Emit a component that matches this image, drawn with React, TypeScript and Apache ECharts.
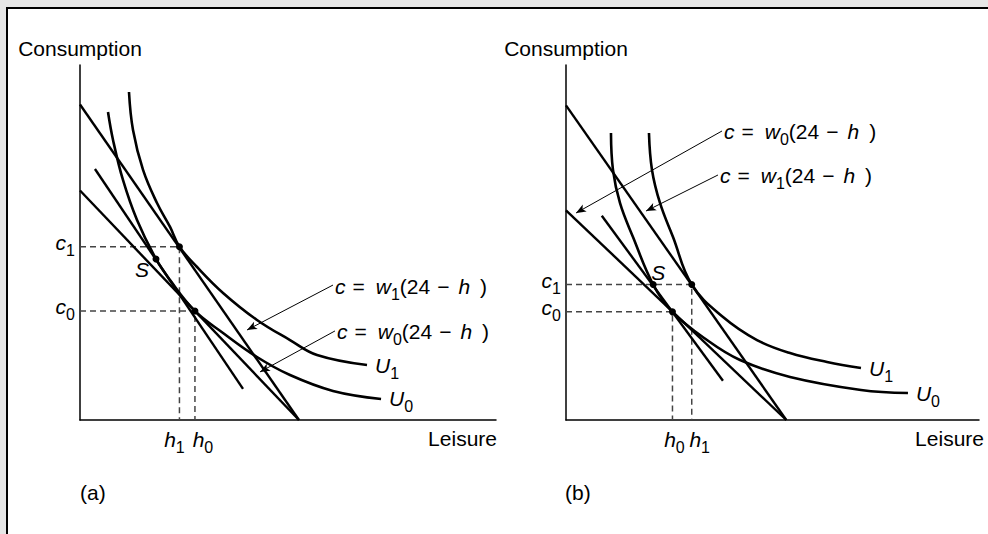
import React, { useEffect, useRef } from "react";
import * as echarts from "echarts";

const FONT = '"Liberation Sans", Arial, Helvetica, sans-serif';

const HOURS = 24;

// ---------- panel (a) ----------
const wagesA = [8, 11]; // w0, w1
const hoursA = [12.6, 10.9]; // h0, h1
const consA = [91.2, 145]; // c0, c1
const pointSA = [8.33, 134.7];
const compLineA = [
  [1.64, 210],
  [17.87, 26],
];
const u0A = [
  [3.07, 257.7], [3.62, 234.3], [4.71, 200.8], [6.25, 167.3], [8.33, 134.7], [9.87, 117.1],
  [12.6, 91.2], [15.68, 72.8], [19.4, 52.7], [23.02, 37.6], [27.73, 24.3], [33.0, 17.6],
];
const u1A = [
  [5.37, 274.4], [5.81, 242.6], [6.91, 209.2], [8.44, 181.5], [9.87, 161.5], [10.9, 145.0],
  [12.83, 128.0], [15.68, 106.3], [19.4, 83.7], [23.02, 66.9], [25.98, 54.4], [31.46, 46.0],
];
const eqIndexA = [1, 0]; // label order (top to bottom)
const arrowTailA = [
  [27.73, 112.9],
  [27.95, 74.5],
];
const arrowHeadA = [
  [18.31, 75.3],
  [19.73, 40.2],
];

// ---------- panel (b) ----------
const wagesB = [8, 12];
const hoursB = [11.6, 13.7];
const consB = [99, 124];
const pointSB = [9.5, 124];
const compLineB = [
  [3.9, 187],
  [17.1, 36],
];
const u0B = [
  [4.9, 262.7], [5.12, 228.9], [5.88, 198.7], [7.3, 167.5], [9.5, 124], [11.6, 99],
  [15.36, 73.2], [18.96, 54.9], [24.41, 39.4], [32.14, 27.5], [37.26, 24.7],
];
const u1B = [
  [9.04, 262.7], [9.37, 228.9], [10.24, 198.7], [11.66, 167.5], [13.7, 124], [17.11, 94.3],
  [20.81, 73.2], [24.41, 61.3], [28.44, 53.1], [32.14, 47.6],
];
const eqIndexB = [0, 1];
const arrowTailB = [
  [17.0, 264.6],
  [16.56, 224.3],
];
const arrowHeadB = [
  [1.09, 189.5],
  [8.72, 191.3],
];

const axisMax = [
  { x: 45.6, y: 297 },
  { x: 45, y: 325 },
];

const base = { fontFamily: FONT, fontSize: 21, color: "#000" };
const ital = { ...base, fontStyle: "italic" };
const rich = {
  i: ital,
  n: base,
  s: { fontFamily: FONT, fontSize: 16, color: "#000", padding: [16, 0, 0, 0] },
  e: { ...base, padding: [0, 0, 0, 7] },
  wq: { ...ital, padding: [0, 0, 0, 11] },
  m: { ...base, padding: [0, 0, 0, 7] },
  hq: { ...ital, padding: [0, 0, 0, 9] },
  rp: { ...base, padding: [0, 0, 0, 10] },
};

const BLACK = "#000";

function panelSeries(
  idx: number,
  wages: number[],
  hours: number[],
  cons: number[],
  pointS: number[],
  compLine: number[][],
  u0: number[][],
  u1: number[][],
  eqIndex: number[],
  tails: number[][],
  heads: number[][],
  sOffset: number[],
  hOffset: number[]
): any[] {
  const ax = { xAxisIndex: idx, yAxisIndex: idx };
  const thick = { color: BLACK, width: 2.4 };
  const s: any[] = [];
  wages.forEach((w, k) => {
    s.push({
      type: "line",
      ...ax,
      data: [
        [0, w * HOURS],
        [HOURS, 0],
      ],
      symbol: "none",
      lineStyle: thick,
      silent: true,
      z: 3,
      markLine:
        k === 0
          ? {
              silent: true,
              symbol: ["none", "arrow"],
              symbolSize: [6, 10],
              label: { show: false },
              lineStyle: { color: BLACK, width: 1, type: "solid" },
              data: tails.map((t, j) => [{ coord: t }, { coord: heads[j] }]),
            }
          : undefined,
    });
  });
  s.push({
    type: "line",
    ...ax,
    data: compLine,
    symbol: "none",
    lineStyle: thick,
    silent: true,
    z: 3,
  });
  [u0, u1].forEach((u, k) => {
    s.push({
      type: "line",
      ...ax,
      data: u,
      smooth: 0.4,
      symbol: "none",
      lineStyle: { color: BLACK, width: 2.6 },
      silent: true,
      z: 3,
      endLabel: {
        show: true,
        distance: 8,
        formatter: `{i|U}{s|${k}}`,
        rich,
      },
    });
  });
  // dashed guides
  hours.forEach((h, k) => {
    s.push({
      type: "line",
      ...ax,
      data: [
        [0, cons[k]],
        [h, cons[k]],
        [h, 0],
      ],
      symbol: "none",
      lineStyle: { color: "#444", width: 1.5, type: [6, 4] },
      silent: true,
      z: 2,
    });
  });
  // dots
  s.push({
    type: "scatter",
    ...ax,
    symbolSize: 7,
    itemStyle: { color: BLACK, opacity: 1 },
    silent: true,
    z: 5,
    data: [
      [hours[0], cons[0]],
      [hours[1], cons[1]],
      {
        value: pointS,
        label: {
          show: true,
          position: "inside",
          offset: sOffset,
          formatter: "{i|S}",
          rich,
        },
      },
    ],
  });
  // h labels (below x axis)
  s.push({
    type: "scatter",
    ...ax,
    symbolSize: 0,
    itemStyle: { opacity: 1 },
    silent: true,
    data: hours.map((h, k) => ({
      value: [h, 0],
      label: {
        show: true,
        position: "bottom",
        distance: 3,
        offset: [hOffset[k], 0],
        formatter: `{i|h}{s|${k}}`,
        rich,
      },
    })),
  });
  // c labels (left of y axis)
  s.push({
    type: "scatter",
    ...ax,
    symbolSize: 0,
    itemStyle: { opacity: 1 },
    silent: true,
    data: cons.map((c, k) => ({
      value: [0, c],
      label: {
        show: true,
        position: "left",
        distance: 5,
        offset: [0, -4],
        formatter: `{i|c}{s|${k}}`,
        rich,
      },
    })),
  });
  // equation labels
  s.push({
    type: "scatter",
    ...ax,
    symbolSize: 0,
    itemStyle: { opacity: 1 },
    silent: true,
    data: tails.map((t, j) => ({
      value: t,
      label: {
        show: true,
        position: "right",
        distance: 2,
        offset: [0, 1],
        formatter: `{i|c}{e|=}{wq|w}{s|${eqIndex[j]}}{n|(24}{m|−}{hq|h}{rp|)}`,
        rich,
      },
    })),
  });
  return s;
}

export default function App() {
  const ref = useRef<HTMLDivElement>(null);
  useEffect(() => {
    if (!ref.current) return;
    const chart = echarts.init(ref.current, null, { renderer: "svg" });
    const gridPos = [
      { left: 80, top: 65, width: 416, height: 355 },
      { left: 566, top: 65, width: 413, height: 355 },
    ];
    const nameGapX = [1, 5];
    const option: any = {
      animation: false,
      backgroundColor: "#e6e6e6",
      textStyle: { fontFamily: FONT },
      grid: gridPos.map((g) => ({ ...g, containLabel: false, outerBoundsMode: "none" })),
      xAxis: axisMax.map((m, i) => ({
        type: "value",
        gridIndex: i,
        min: 0,
        max: m.x,
        name: "Leisure",
        nameLocation: "end",
        nameGap: nameGapX[i],
        nameTextStyle: {
          fontFamily: FONT,
          fontSize: 21,
          color: BLACK,
          align: "right",
          verticalAlign: "top",
          padding: [8, 0, 0, 0],
        },
        axisLine: { show: true, onZero: false, lineStyle: { color: BLACK, width: 1.5 } },
        axisTick: { show: false },
        axisLabel: { show: false },
        splitLine: { show: false },
      })),
      yAxis: axisMax.map((m, i) => ({
        type: "value",
        gridIndex: i,
        min: 0,
        max: m.y,
        name: "Consumption",
        nameLocation: "end",
        nameGap: 6,
        nameTextStyle: { fontFamily: FONT, fontSize: 21, color: BLACK },
        axisLine: { show: true, onZero: false, lineStyle: { color: BLACK, width: 1.5 } },
        axisTick: { show: false },
        axisLabel: { show: false },
        splitLine: { show: false },
      })),
      graphic: [
        {
          type: "rect",
          z: -10,
          silent: true,
          shape: { x: 7, y: 8, width: 1100, height: 700 },
          style: { fill: "#fff", stroke: BLACK, lineWidth: 2 },
        },
        {
          type: "text",
          left: 80,
          top: 482,
          silent: true,
          style: { text: "(a)", font: `21px ${FONT}`, fill: BLACK },
        },
        {
          type: "text",
          left: 565,
          top: 482,
          silent: true,
          style: { text: "(b)", font: `21px ${FONT}`, fill: BLACK },
        },
      ],
      series: [
        ...panelSeries(0, wagesA, hoursA, consA, pointSA, compLineA, u0A, u1A, eqIndexA, arrowTailA, arrowHeadA, [-14, 11], [8, -5]),
        ...panelSeries(1, wagesB, hoursB, consB, pointSB, compLineB, u0B, u1B, eqIndexB, arrowTailB, arrowHeadB, [5, -12], [2, 8]),
      ],
    };
    chart.setOption(option);
    return () => chart.dispose();
  }, []);
  return (
    <div
      ref={ref}
      style={{ position: "fixed", left: 0, top: 0, width: 988, height: 534 }}
    />
  );
}
